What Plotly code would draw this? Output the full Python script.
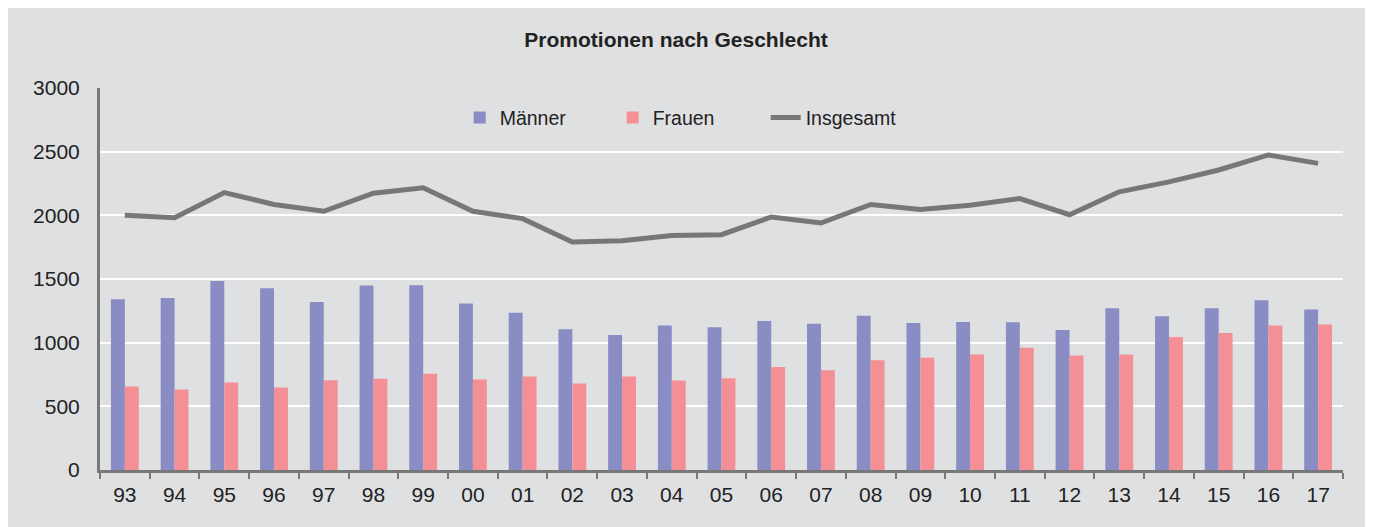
import plotly.graph_objects as go

jahre = ["93", "94", "95", "96", "97", "98", "99", "00", "01", "02", "03", "04", "05",
         "06", "07", "08", "09", "10", "11", "12", "13", "14", "15", "16", "17"]
maenner = [1340, 1350, 1484, 1427, 1319, 1448, 1450, 1308, 1234, 1105, 1061, 1134, 1121,
           1171, 1148, 1211, 1155, 1163, 1161, 1100, 1271, 1208, 1271, 1334, 1261]
frauen = [655, 632, 687, 647, 705, 716, 755, 711, 734, 679, 734, 703, 721,
          808, 784, 861, 882, 908, 961, 900, 908, 1045, 1076, 1134, 1142]
insgesamt = [2000, 1982, 2179, 2085, 2032, 2174, 2216, 2032, 1974, 1790, 1800, 1842, 1848,
             1987, 1940, 2085, 2045, 2079, 2132, 2005, 2185, 2263, 2356, 2474, 2408]
y_ticks = [0, 500, 1000, 1500, 2000, 2500, 3000]

FONT = "Liberation Sans, Arial, sans-serif"
BG = "#dfe0e2"
AXIS = "#787878"

fig = go.Figure()
fig.add_trace(go.Bar(x=jahre, y=maenner, name="Männer", marker=dict(color="#8a8cc4", line=dict(width=0))))
fig.add_trace(go.Bar(x=jahre, y=frauen, name="Frauen", marker=dict(color="#f49095", line=dict(width=0))))
fig.add_trace(go.Scatter(x=jahre, y=insgesamt, name="Insgesamt", mode="lines",
                         line=dict(color="#777777", width=5)))

fig.update_layout(
    width=1365, height=519,
    margin=dict(l=92, r=30, t=80, b=57),
    paper_bgcolor="white",
    plot_bgcolor="rgba(0,0,0,0)",
    font=dict(family=FONT, size=21, color="#222222"),
    barmode="group", bargap=0.44, bargroupgap=0,
    title=dict(text="<b>Promotionen nach Geschlecht</b>", x=0.4894, xanchor="center",
               y=1 - 32 / 519, yanchor="middle", yref="container",
               font=dict(family=FONT, size=21, color="#222222")),
    legend=dict(orientation="h", x=0.474, xanchor="center", y=0.922, yanchor="middle",
                bgcolor="rgba(0,0,0,0)", font=dict(size=19.5), itemwidth=30,
                entrywidth=108, traceorder="normal"),
    showlegend=True,
    shapes=[dict(type="rect", xref="paper", yref="paper", x0=-0.2, x1=1.0201,
                 y0=-0.3, y1=1.4, fillcolor=BG, line=dict(width=0), layer="below")],
)
fig.update_xaxes(type="category", showline=True, linecolor=AXIS, linewidth=3,
                 ticks="outside", tickson="boundaries", ticklen=6, tickwidth=2, tickcolor=AXIS,
                 showgrid=False, zeroline=False, ticklabelstandoff=4)
fig.update_yaxes(range=[0, 3000], tickvals=y_ticks, showline=True, linecolor=AXIS, linewidth=3,
                 showgrid=True, gridcolor="white", gridwidth=2, zeroline=False,
                 ticks="", ticklabelstandoff=13)

fig.write_html("out.html")
